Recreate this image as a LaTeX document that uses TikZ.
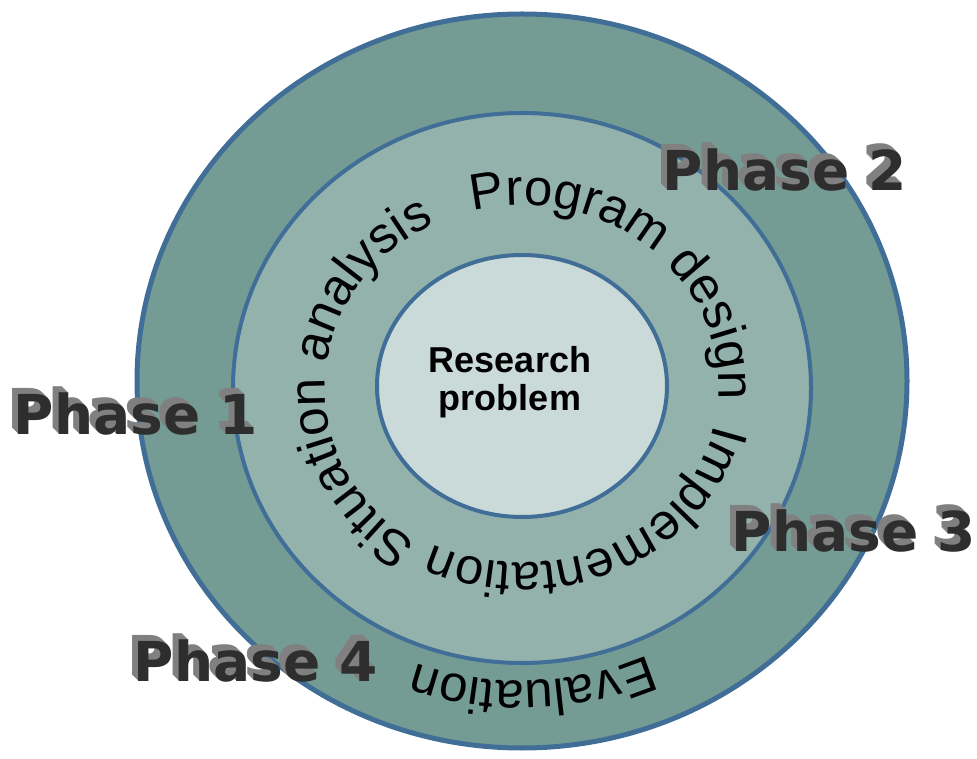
\documentclass[tikz,border=0pt]{standalone}
\usepackage{fontspec}
\setmainfont{Liberation Sans}
\newfontfamily\phasefont{DejaVu Sans}
\usetikzlibrary{shapes.geometric, decorations.text}
\definecolor{ringouter}{HTML}{749B94}
\definecolor{ringmiddle}{HTML}{93B2AC}
\definecolor{ringinner}{HTML}{C9DAD8}
\definecolor{ringline}{HTML}{416E96}
\newcommand{\ringsize}{\fontsize{51}{60}\selectfont}
\newcommand{\phaselabel}[3]{%
  \foreach \d in {6,5,...,1}
    \node[phaseback, xshift=-\d pt, yshift=\d pt] (#1back\d) at (#2) {#3};
  \node[phasefront] (#1) at (#2) {#3};}

\begin{document}
\begin{tikzpicture}[x=1pt, y=1pt]
\tikzset{ring/.style={ellipse, draw=ringline, inner sep=0pt},
		ringlabel/.style={decorate},
		phaseback/.style={font=\phasefont\bfseries\fontsize{55}{66}\selectfont, text=black!50, inner sep=0pt},
		phasefront/.style={font=\phasefont\bfseries\fontsize{55}{66}\selectfont, text=black!82, inner sep=0pt}}
\useasboundingbox (0,0) rectangle (977,758);
\node[ring, fill=ringouter, line width=5pt, minimum width=770pt, minimum height=734pt] (outer) at (522,377) {};
\node[ring, fill=ringmiddle, line width=4pt, minimum width=578pt, minimum height=550pt] (middle) at (522,370) {};
\node[ring, fill=ringinner, line width=4pt, minimum width=290pt, minimum height=262pt] (inner) at (522,372) {};
\node[align=center, font=\bfseries\fontsize{36}{38}\selectfont] (problem) at (510,376) {Research\\problem};
\path[ringlabel, decoration={text along path, text align=center, text={|\ringsize|Situation analysis}}]
  (middle.center) ++(247:197pt and 183pt) arc[start angle=247, end angle=107, x radius=197pt, y radius=183pt];
\path[ringlabel, decoration={text along path, text align=center, text={|\ringsize|Program design}}]
  (middle.center) ++(119:197pt and 183pt) arc[start angle=119, end angle=-19, x radius=197pt, y radius=183pt];
\path[ringlabel, decoration={text along path, text align=center, text={|\ringsize|Implementation}}]
  (middle.center) ++(0:197pt and 175pt) arc[start angle=0, end angle=-128, x radius=197pt, y radius=175pt];
\path[ringlabel, decoration={text along path, text align=center, text={|\ringsize|Evaluation}}]
  (outer.center) ++(-50:311pt and 300pt) arc[start angle=-50, end angle=-126, x radius=311pt, y radius=300pt];
\phaselabel{phaseA}{136,344}{Phase 1}
\phaselabel{phaseB}{785,588}{Phase 2}
\phaselabel{phaseC}{854,227}{Phase 3}
\phaselabel{phaseD}{256,97}{Phase 4}
\end{tikzpicture}
\end{document}
